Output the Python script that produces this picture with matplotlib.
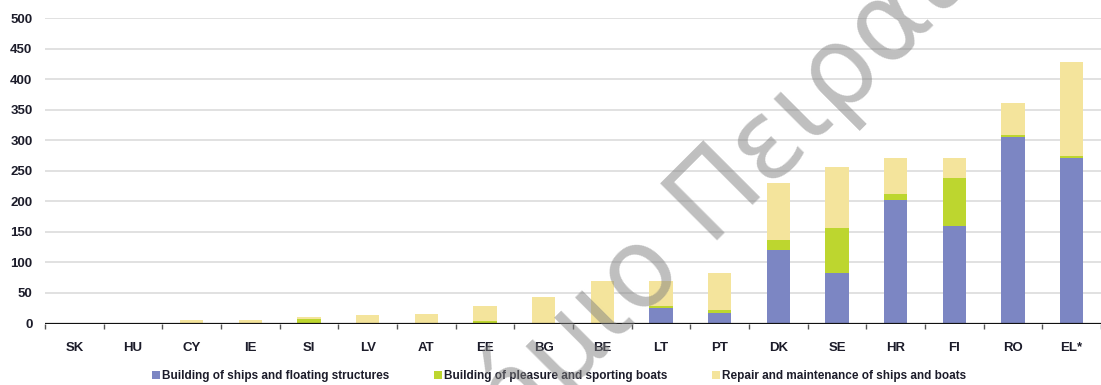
import matplotlib
matplotlib.use("Agg")
import matplotlib.pyplot as plt
from matplotlib import font_manager
from matplotlib.patches import Patch
import numpy as np

countries = ['SK', 'HU', 'CY', 'IE', 'SI', 'LV', 'AT', 'EE', 'BG', 'BE',
             'LT', 'PT', 'DK', 'SE', 'HR', 'FI', 'RO', 'EL*']
ships =    [0, 0, 0, 0, 0, 0, 0, 0, 0, 0, 26, 18, 120, 83, 203, 160, 306, 271]
pleasure = [0, 0, 0, 0, 7, 0, 0, 4, 0, 0, 3, 4, 17, 74, 9, 78, 3, 4]
repair =   [0, 0, 5, 5, 3, 14, 15, 25, 44, 69, 41, 60, 93, 100, 59, 33, 52, 154]
series_labels = ['Building of ships and floating structures',
                 'Building of pleasure and sporting boats',
                 'Repair and maintenance of ships and boats']
yticks = [0, 50, 100, 150, 200, 250, 300, 350, 400, 450, 500]
watermark = 'Πανεπιστήμιο Πειραιώς'

colors = ['#7c86c3', '#bdd62f', '#f4e49c']
txt_color = '#1c1c2a'

avail = {f.name for f in font_manager.fontManager.ttflist}
lab_font = 'Liberation Sans Narrow' if 'Liberation Sans Narrow' in avail else 'Liberation Sans'

W, H = 1101, 385
fig = plt.figure(figsize=(W / 100, H / 100), dpi=100)
ax = fig.add_axes([45 / W, 61.5 / H, 1056 / W, 305.2 / H])

x = np.arange(len(countries))
s = np.array(ships, float)
p = np.array(pleasure, float)
r = np.array(repair, float)
bw = 0.4
ax.bar(x, s, bw, color=colors[0], zorder=3)
ax.bar(x, p, bw, bottom=s, color=colors[1], zorder=3)
ax.bar(x, r, bw, bottom=s + p, color=colors[2], zorder=3)

ax.set_xlim(-0.5, len(countries) - 0.5)
ax.set_ylim(0, 500)
ax.set_yticks(yticks)
ax.set_yticklabels([str(v) for v in yticks])
for v in yticks[1:]:
    ax.axhline(v, color='#dcdcdc', lw=1.2, zorder=1)
ax.axhline(0, color='#111111', lw=1.6, zorder=4)

for sp in ax.spines.values():
    sp.set_visible(False)

ax.set_xticks(x)
ax.set_xticklabels(countries)
ax.set_xticks(np.arange(-0.5, len(countries) - 0.4, 1.0), minor=True)
ax.tick_params(axis='x', which='major', length=0, pad=13)
ax.tick_params(axis='x', which='minor', length=3.5, width=1, color='#555555', direction='out')
ax.tick_params(axis='y', length=0, pad=9)
for lab in ax.get_xticklabels() + ax.get_yticklabels():
    lab.set_fontfamily(lab_font)
    lab.set_fontweight('bold')
    lab.set_fontsize(9.5)
    lab.set_color(txt_color)

handles = [Patch(facecolor=c, edgecolor='none') for c in colors]
leg = fig.legend(handles, series_labels, loc='center', bbox_to_anchor=(559 / W, 1 - 376 / H),
                 ncol=3, frameon=False, handlelength=0.7, handleheight=0.7,
                 handletextpad=0.15, columnspacing=3.8,
                 prop={'family': lab_font, 'weight': 'bold', 'size': 8.5})
for t in leg.get_texts():
    t.set_color(txt_color)

fig.text(612 / W, 1 - 346 / H, watermark, transform=fig.transFigure, rotation=45,
         rotation_mode='anchor', ha='center', va='baseline', fontsize=79,
         family='DejaVu Sans', color='#808080', alpha=0.5, zorder=10)

fig.savefig('out.png', dpi=100)
